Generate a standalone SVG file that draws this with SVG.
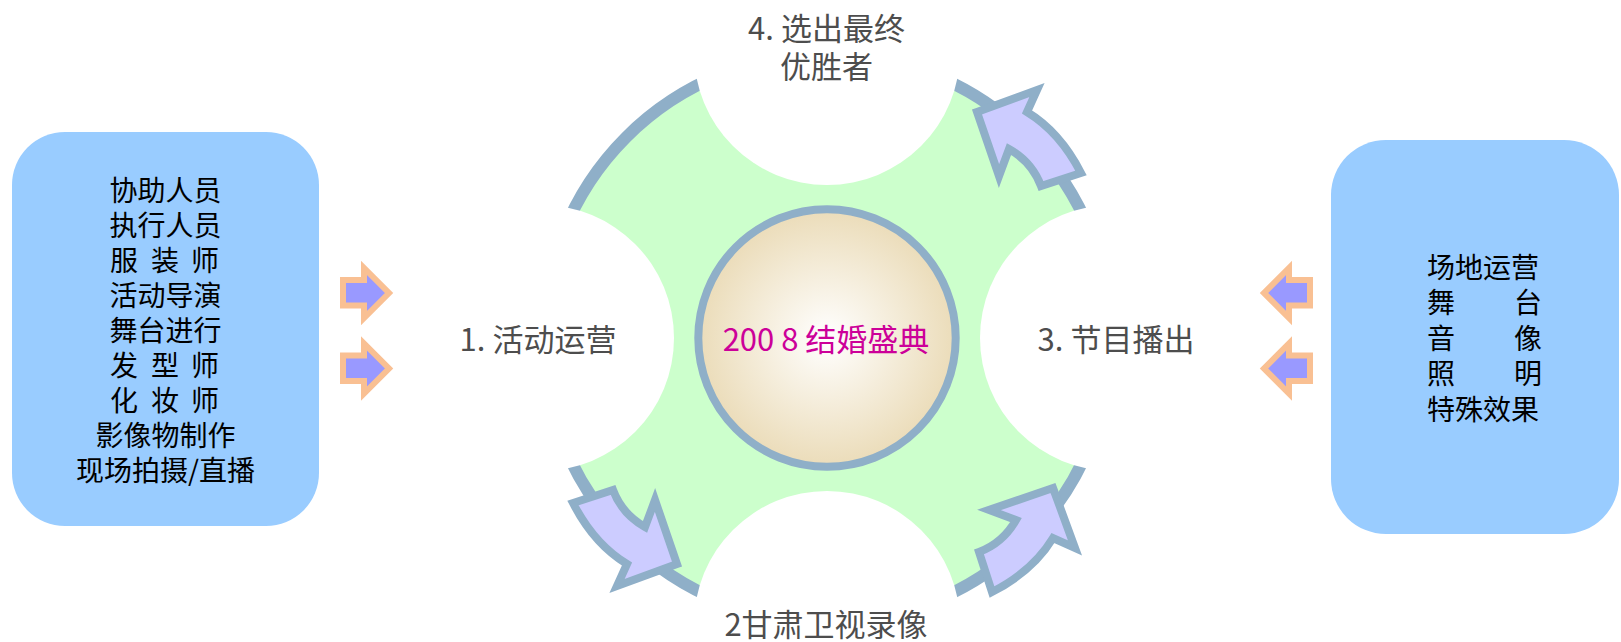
<svg xmlns="http://www.w3.org/2000/svg" width="1621" height="642" viewBox="0 0 1621 642">
<defs>
<style>
.lbl{font-family:"Noto Sans CJK SC","Noto Sans",sans-serif;font-size:31px;fill:#4D4D4D;text-anchor:middle}
.box{fill:#99CCFF}
.bt{font-family:"Noto Sans CJK SC",sans-serif;font-size:28px;fill:#000}
.c{text-anchor:middle}
.s{text-anchor:start}
.blk{fill:#9999FF;stroke:#F9C093;stroke-width:6;stroke-linejoin:miter}
.carr{fill:#CCCCFF;stroke:#8FAFC8;stroke-width:8;stroke-linejoin:miter}
</style>
<radialGradient id="g" cx="50%" cy="50%" r="50%"><stop offset="0" stop-color="#FFFFFF"/><stop offset="1" stop-color="#EBDCB9"/></radialGradient>
<path id="ca" class="carr" d="M977,112 L1037,90 L1027,112 Q1060,132 1081,173 L1041,186 Q1032,162 1009,149 L999,176 Z"/>
<polygon id="ra" class="blk" points="343,280 364,280 364,268 389,293 364,318 364,305.5 343,305.5"/>
</defs>
<rect width="1621" height="642" fill="#FFFFFF"/>
<g id="ring">
<circle cx="827" cy="338" r="284" fill="#CCFFCC" stroke="#8FAFC8" stroke-width="12"/>
<circle cx="827" cy="52" r="133" fill="#FFFFFF"/>
<circle cx="827" cy="624" r="133" fill="#FFFFFF"/>
<circle cx="541" cy="338" r="133" fill="#FFFFFF"/>
<circle cx="1113" cy="338" r="133" fill="#FFFFFF"/>
</g>
<g id="connectors">
<use href="#ca"/>
<use href="#ca" transform="rotate(90 827 338)"/>
<use href="#ca" transform="rotate(180 827 338)"/>
<use href="#ra"/>
<use href="#ra" transform="translate(0 75.5)"/>
<use href="#ra" transform="translate(1653 0) scale(-1 1)"/>
<use href="#ra" transform="translate(1653 75.5) scale(-1 1)"/>
</g>
<g id="center">
<circle cx="827" cy="338" r="128.7" fill="url(#g)" stroke="#8FAFC8" stroke-width="8"/>
<text x="826" y="351" class="lbl" style="fill:#CC0099">200 8 结婚盛典</text>
</g>
<g id="step1"><text x="538" y="351" class="lbl">1. 活动运营</text></g>
<g id="step2"><text x="826" y="636" class="lbl">2甘肃卫视录像</text></g>
<g id="step3"><text x="1116" y="351" class="lbl">3. 节目播出</text></g>
<g id="step4"><text class="lbl"><tspan x="826.5" y="40">4. 选出最终</tspan><tspan x="826.5" y="78">优胜者</tspan></text></g>
<g id="leftbox">
<rect class="box" x="12" y="132" width="307" height="394" rx="53"/>
<text class="bt" xml:space="preserve"><tspan class="c" x="165.5" y="200.5">协助人员</tspan><tspan class="c" x="165.5" y="235.5">执行人员</tspan><tspan class="s" x="110" y="270.5">服 </tspan><tspan class="s" x="151" y="270.5">装 </tspan><tspan class="s" x="191" y="270.5">师</tspan><tspan class="c" x="165.5" y="305.5">活动导演</tspan><tspan class="c" x="165.5" y="340.5">舞台进行</tspan><tspan class="s" x="110" y="375.5">发 </tspan><tspan class="s" x="151" y="375.5">型 </tspan><tspan class="s" x="191" y="375.5">师</tspan><tspan class="s" x="110" y="410.5">化 </tspan><tspan class="s" x="151" y="410.5">妆 </tspan><tspan class="s" x="191" y="410.5">师</tspan><tspan class="c" x="165.5" y="445.5">影像物制作</tspan><tspan class="c" x="165.5" y="480.5">现场拍摄/直播</tspan></text>
</g>
<g id="rightbox">
<rect class="box" x="1331" y="140" width="288" height="394" rx="55"/>
<text class="bt" xml:space="preserve"><tspan x="1427" y="277.5">场地运营</tspan><tspan x="1427" y="313">舞 </tspan><tspan x="1514" y="313">台</tspan><tspan x="1427" y="348.5">音 </tspan><tspan x="1514" y="348.5">像</tspan><tspan x="1427" y="384">照 </tspan><tspan x="1514" y="384">明</tspan><tspan x="1427" y="419.5">特殊效果</tspan></text>
</g>
</svg>
